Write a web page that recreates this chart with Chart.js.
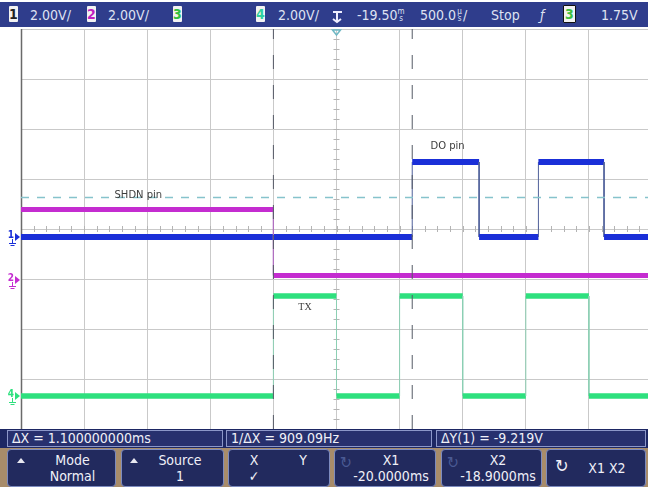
<!DOCTYPE html>
<html><head><meta charset="utf-8">
<script src="https://cdn.jsdelivr.net/npm/chart.js@4.4.1/dist/chart.umd.min.js"></script>
<style>
html,body{margin:0;padding:0;width:648px;height:487px;overflow:hidden;background:#fff;}
#wrap{position:relative;width:648px;height:487px;overflow:hidden;}
#c{position:absolute;left:0;top:0;}
.f{font-family:"Liberation Sans Narrow","DejaVu Sans Condensed","Roboto",sans-serif;font-stretch:condensed;}
.hdr{position:absolute;left:0;top:2px;width:648px;height:25px;background:#2f3d8c;}
.t{position:absolute;color:#dfe2f2;font-size:14px;line-height:14px;white-space:nowrap;}
.bd{position:absolute;top:4px;width:9px;height:16px;background:#f2f2f2;border-radius:1px;font-size:14px;line-height:16px;text-align:center;font-weight:bold;}
.sm{font-size:8px;line-height:7px;display:inline-block;vertical-align:top;width:7px;text-align:center;}
.meas{position:absolute;left:0;top:429px;width:648px;height:19px;background:#1d2763;}
.mbox{position:absolute;top:1px;height:15px;border:1px solid #8c97c9;background:#27306e;color:#f0f0f8;font-size:14px;line-height:15px;padding-left:4px;box-sizing:content-box;white-space:nowrap;}
.keys{position:absolute;left:0;top:448px;width:648px;height:39px;background:#a88c6a;}
.key{position:absolute;top:1px;height:36px;border:1px solid #7d8bbf;border-radius:4px;background:#222a5e;color:#f0f0f8;}
.kl{position:absolute;font-size:14px;line-height:14px;white-space:nowrap;text-align:center;}
.tri{position:absolute;width:0;height:0;border-left:4px solid transparent;border-right:4px solid transparent;border-bottom:5px solid #e8e8f0;}
</style></head>
<body><div id="wrap">
<canvas id="c" width="656" height="487"></canvas>

<div class="hdr f">
  <div class="bd f" style="left:9px;color:#222;">1</div>
  <div class="t f" style="left:30px;top:6px;">2.00V/</div>
  <div class="bd f" style="left:87px;color:#c020c0;">2</div>
  <div class="t f" style="left:108px;top:6px;">2.00V/</div>
  <div class="bd f" style="left:173px;color:#30c040;">3</div>
  <div class="bd f" style="left:256px;color:#30d0a0;">4</div>
  <div class="t f" style="left:278px;top:6px;">2.00V/</div>
  <svg style="position:absolute;left:330px;top:7px" width="14" height="16" viewBox="0 0 14 16"><path d="M3 3 H12 M7 3 V13 M3 10 L7 13 L11 10" stroke="#eef" stroke-width="2" fill="none"/></svg>
  <div class="t f" style="left:357px;top:6px;">-19.50<span class="sm">m<br>s</span></div>
  <div class="t f" style="left:420px;top:6px;">500.0<span class="sm">µ<br>s</span>/</div>
  <div class="t f" style="left:491px;top:6px;">Stop</div>
  <div class="t f" style="left:540px;top:6px;font-style:italic;">ƒ</div>
  <div class="bd f" style="left:563px;width:11px;border:1px solid #111;top:3px;color:#40c040;">3</div>
  <div class="t f" style="left:601px;top:6px;">1.75V</div>
</div>

<div class="meas f">
  <div class="mbox f" style="left:7px;width:210px;">ΔX = 1.100000000ms</div>
  <div class="mbox f" style="left:226px;width:200px;">1/ΔX = 909.09Hz</div>
  <div class="mbox f" style="left:436px;width:204px;">ΔY(1) = -9.219V</div>
</div>

<div class="keys f">
  <div class="key" style="left:7px;width:107px;">
    <div class="tri" style="left:9px;top:8px;"></div>
    <div class="kl f" style="left:22px;width:85px;top:3px;">Mode</div>
    <div class="kl f" style="left:22px;width:85px;top:19px;">Normal</div>
  </div>
  <div class="key" style="left:121px;width:101px;">
    <div class="tri" style="left:8px;top:8px;"></div>
    <div class="kl f" style="left:18px;width:80px;top:3px;">Source</div>
    <div class="kl f" style="left:18px;width:80px;top:19px;">1</div>
  </div>
  <div class="key" style="left:228px;width:100px;">
    <div class="kl f" style="left:18px;width:14px;top:3px;">X</div>
    <div class="kl f" style="left:67px;width:14px;top:3px;">Y</div>
    <div class="kl f" style="left:18px;width:14px;top:19px;">✓</div>
  </div>
  <div class="key" style="left:334px;width:100px;">
    <div class="kl f" style="left:5px;top:6px;color:#4a5a94;font-size:16px;">↻</div>
    <div class="kl f" style="left:18px;width:76px;top:3px;">X1</div>
    <div class="kl f" style="left:18px;width:76px;top:19px;">-20.0000ms</div>
  </div>
  <div class="key" style="left:441px;width:99px;">
    <div class="kl f" style="left:5px;top:6px;color:#4a5a94;font-size:16px;">↻</div>
    <div class="kl f" style="left:18px;width:76px;top:3px;">X2</div>
    <div class="kl f" style="left:18px;width:76px;top:19px;">-18.9000ms</div>
  </div>
  <div class="key" style="left:546px;width:98px;">
    <div class="kl f" style="left:8px;top:9px;font-size:18px;">↻</div>
    <div class="kl f" style="left:30px;width:60px;top:11px;">X1 X2</div>
  </div>
</div>
</div>
<script>
// ---- data (time in ms, levels in volts) ----
const timeWindow = [-22.0, -17.0];          // 500 µs/div, delay -19.50 ms
const voltsPerDiv = [2, 2, 2, 2];            // ch1..ch4
const groundDiv = [3.84, 2.98, 3.755, 0.66]; // ground reference, divisions from bottom

const doTime  = [-22.0, -18.9, -18.9, -18.37, -18.37, -17.9, -17.9, -17.38, -17.38, -17.0];
const doVolts = [0, 0, 3.0, 3.0, 0, 0, 3.0, 3.0, 0, 0];

const shdnTime  = [-22.0, -20.0, -20.0, -17.0];
const shdnVolts = [2.82, 2.82, 0.18, 0.18];

const txTime  = [-22.0, -20.0, -20.0, -19.5, -19.5, -19.0, -19.0, -18.5, -18.5, -18.0, -18.0, -17.5, -17.5, -17.0];
const txVolts = [0, 0, 4.0, 4.0, 0, 0, 4.0, 4.0, 0, 0, 4.0, 4.0, 0, 0];

const triggerLevel = 1.75;   // ch3
const cursorX = [-20.0, -18.9];

const noteText = ['SHDN pin', 'DO pin', 'TX'];
const noteTime = [-21.07, -18.62, -19.75];
const noteDiv  = [4.68, 5.66, 2.44];

const chLabels = ['1', '2', '4'];
const chIndex  = [0, 1, 3];
const chColors = ['#1a2fd8', '#c42cd0', '#2ee07e'];

// ---- helpers ----
function toDiv(ch, v){ return groundDiv[ch] + v / voltsPerDiv[ch]; }
function pts(ts, vs, ch){ return ts.map((t,i)=>({x:t, y:toDiv(ch, vs[i])})); }
function trace(label, data, color, edge, w){
  return {label, data, borderColor:color, borderWidth:w, pointRadius:0, tension:0,
    segment:{
      borderWidth: c => c.p0.parsed.x === c.p1.parsed.x ? 1 : w,
      borderColor: c => c.p0.parsed.x === c.p1.parsed.x ? edge : color
    }};
}

const datasets = [
  {label:'trig', data:[{x:timeWindow[0],y:toDiv(2,triggerLevel)},{x:timeWindow[1],y:toDiv(2,triggerLevel)}],
   borderColor:'#86c3cc', borderWidth:1.5, borderDash:[8,8], pointRadius:0},
  ...cursorX.map((cx,i)=>({label:'X'+(i+1), data:[{x:cx,y:0},{x:cx,y:8}],
   borderColor:'#555a66', borderWidth:1, borderDash:[14,16], pointRadius:0})),
  trace('TX', pts(txTime, txVolts, 3), '#2ee07e', '#8ccfb3', 5.5),
  trace('SHDN', pts(shdnTime, shdnVolts, 1), '#c42cd0', '#b070c0', 5),
  trace('DO', pts(doTime, doVolts, 0), '#1a2fd8', '#50609a', 6),
];

const overlay = {
  id:'overlay',
  beforeDatasetsDraw(chart){
    const {ctx, scales:{x,y}, chartArea:a} = chart;
    ctx.save();
    ctx.strokeStyle = '#b4b4b4'; ctx.lineWidth = 1;
    const cy = y.getPixelForValue(4), cx = x.getPixelForValue((timeWindow[0]+timeWindow[1])/2);
    ctx.beginPath();
    for(let k=0;k<=50;k++){
      const px = Math.round(x.getPixelForValue(timeWindow[0] + k*0.1))+0.5;
      ctx.moveTo(px, cy-3); ctx.lineTo(px, cy+3);
    }
    for(let k=0;k<=40;k++){
      const py = Math.round(y.getPixelForValue(k*0.2))+0.5;
      ctx.moveTo(cx-3, py); ctx.lineTo(cx+3, py);
    }
    ctx.stroke();
    ctx.strokeStyle = '#6a6a6a'; ctx.lineWidth = 1.5;
    ctx.beginPath(); ctx.moveTo(a.left+0.5, a.top); ctx.lineTo(a.left+0.5, a.bottom); ctx.stroke();
    ctx.restore();
  },
  afterDatasetsDraw(chart){
    const {ctx, scales:{x,y}, chartArea:a} = chart;
    ctx.save();
    ctx.fillStyle = '#3c3c3c';
    ctx.textAlign = 'center'; ctx.textBaseline = 'middle';
    noteText.forEach((s,i)=>{
      ctx.font = (s==='TX' ? '10px "Liberation Serif", serif' : '10px "DejaVu Sans", sans-serif');
      ctx.fillText(s, x.getPixelForValue(noteTime[i]), y.getPixelForValue(noteDiv[i]));
    });
    // channel ground markers
    chLabels.forEach((s,i)=>{
      const py = y.getPixelForValue(groundDiv[chIndex[i]]);
      ctx.fillStyle = chColors[i]; ctx.strokeStyle = chColors[i];
      ctx.font = 'bold 10px "DejaVu Sans Condensed", sans-serif';
      ctx.textAlign = 'center';
      ctx.fillText(s, 11, py-2);
      ctx.beginPath(); ctx.moveTo(15, py-4); ctx.lineTo(20, py); ctx.lineTo(15, py+4); ctx.closePath(); ctx.fill();
      ctx.lineWidth = 1;
      ctx.beginPath();
      ctx.moveTo(12.5, py+2); ctx.lineTo(12.5, py+6);
      ctx.moveTo(9, py+6.5); ctx.lineTo(16, py+6.5);
      ctx.moveTo(10.5, py+8.5); ctx.lineTo(14.5, py+8.5);
      ctx.stroke();
    });
    // trigger position marker
    const tx = x.getPixelForValue((timeWindow[0]+timeWindow[1])/2);
    ctx.strokeStyle = '#6fb8c4'; ctx.lineWidth = 1.5;
    ctx.beginPath(); ctx.moveTo(tx-4, a.top+1); ctx.lineTo(tx+4, a.top+1); ctx.lineTo(tx, a.top+6); ctx.closePath(); ctx.stroke();
    ctx.restore();
  }
};

new Chart(document.getElementById('c'), {
  type:'line',
  data:{datasets},
  options:{
    responsive:false, animation:false, devicePixelRatio:1,
    layout:{padding:{left:21, top:29, right:4, bottom:58}},
    plugins:{legend:{display:false}, tooltip:{enabled:false}},
    scales:{
      x:{type:'linear', min:timeWindow[0], max:timeWindow[1],
         ticks:{display:false, stepSize:0.5}, border:{display:false},
         grid:{color:'#c9c9c9', lineWidth:1, drawTicks:false}},
      y:{type:'linear', min:0, max:8,
         ticks:{display:false, stepSize:1}, border:{display:false},
         grid:{color:'#c9c9c9', lineWidth:1, drawTicks:false}}
    }
  },
  plugins:[overlay]
});
</script>
</body></html>
